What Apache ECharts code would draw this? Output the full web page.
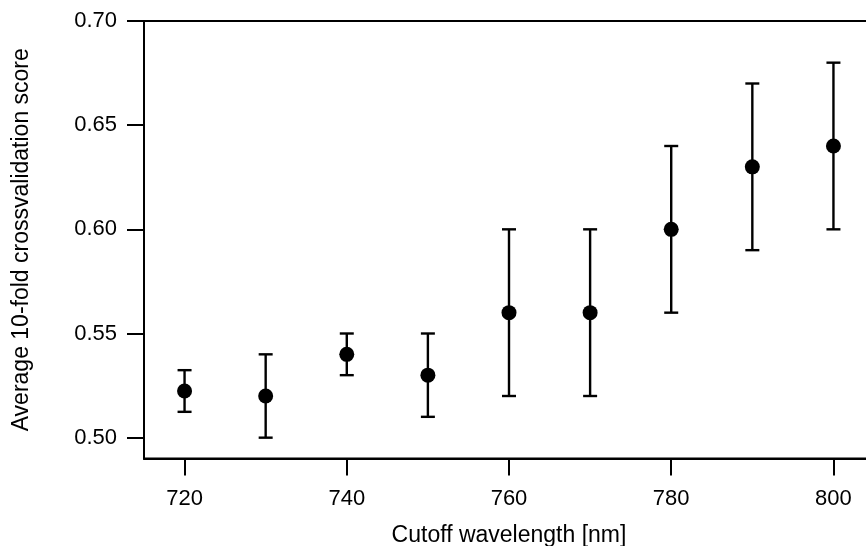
<!DOCTYPE html>
<html>
<head>
<meta charset="utf-8">
<script src="https://cdn.jsdelivr.net/npm/echarts@6/dist/echarts.min.js"></script>
<style>
html,body{margin:0;padding:0;background:#fff;}
#chart{width:866px;height:546px;}
</style>
</head>
<body>
<div id="chart"></div>
<script>
// Data
var wavelengths = [720, 730, 740, 750, 760, 770, 780, 790, 800];
var scores      = [0.5224, 0.520, 0.540, 0.530, 0.560, 0.560, 0.600, 0.630, 0.640];
var errors      = [0.0100, 0.020, 0.010, 0.020, 0.040, 0.040, 0.040, 0.040, 0.040];
var xTicks = [720, 740, 760, 780, 800];
var yTicks = [0.50, 0.55, 0.60, 0.65, 0.70];

var FONT = 'Liberation Sans';
var pts = wavelengths.map(function (w, i) { return [w, scores[i]]; });
var bars = wavelengths.map(function (w, i) { return [w, scores[i] - errors[i], scores[i] + errors[i]]; });

var chart = echarts.init(document.getElementById('chart'), null, {renderer: 'canvas'});
chart.setOption({
  animation: false,
  backgroundColor: '#fff',
  grid: {
    left: 144, right: -8, top: 21, bottom: 87.5,
    outerBoundsMode: 'none', containLabel: false,
    show: true, borderColor: '#000', borderWidth: 2, backgroundColor: 'transparent'
  },
  xAxis: {
    type: 'value', min: 715, max: 805,
    name: 'Cutoff wavelength [nm]', nameLocation: 'middle', nameGap: 66,
    nameTextStyle: {fontFamily: FONT, fontSize: 23, color: '#000'},
    axisLine: {show: true, onZero: false, lineStyle: {color: '#000', width: 2}},
    axisTick: {show: true, inside: false, length: 17, customValues: xTicks, lineStyle: {color: '#000', width: 2}},
    axisLabel: {customValues: xTicks, margin: 29, fontFamily: FONT, fontSize: 22, color: '#000'},
    splitLine: {show: false}
  },
  yAxis: {
    type: 'value', min: 0.49, max: 0.70,
    name: 'Average 10-fold crossvalidation score', nameLocation: 'middle', nameGap: 111,
    nameTextStyle: {fontFamily: FONT, fontSize: 23, color: '#000'},
    axisLine: {show: true, onZero: false, lineStyle: {color: '#000', width: 2}},
    axisTick: {show: true, inside: false, length: 17, customValues: yTicks, lineStyle: {color: '#000', width: 2}},
    axisLabel: {customValues: yTicks, margin: 27, fontFamily: FONT, fontSize: 22, color: '#000',
      formatter: function (v) { return Number(v).toFixed(2); }},
    splitLine: {show: false}
  },
  series: [
    {
      type: 'custom',
      data: bars,
      encode: {x: 0, y: [1, 2]},
      renderItem: function (params, api) {
        var x = api.value(0);
        var lo = api.coord([x, api.value(1)]);
        var hi = api.coord([x, api.value(2)]);
        var hw = 7;
        var style = {stroke: '#000', lineWidth: 2.4, fill: null};
        return {
          type: 'group',
          children: [
            {type: 'line', shape: {x1: lo[0], y1: lo[1], x2: hi[0], y2: hi[1]}, style: style},
            {type: 'line', shape: {x1: lo[0] - hw, y1: lo[1], x2: lo[0] + hw, y2: lo[1]}, style: style},
            {type: 'line', shape: {x1: hi[0] - hw, y1: hi[1], x2: hi[0] + hw, y2: hi[1]}, style: style}
          ]
        };
      },
      z: 2
    },
    {
      type: 'scatter',
      data: pts,
      symbol: 'circle',
      symbolSize: 15,
      itemStyle: {color: '#000', opacity: 1},
      z: 3
    }
  ]
});
</script>
</body>
</html>
